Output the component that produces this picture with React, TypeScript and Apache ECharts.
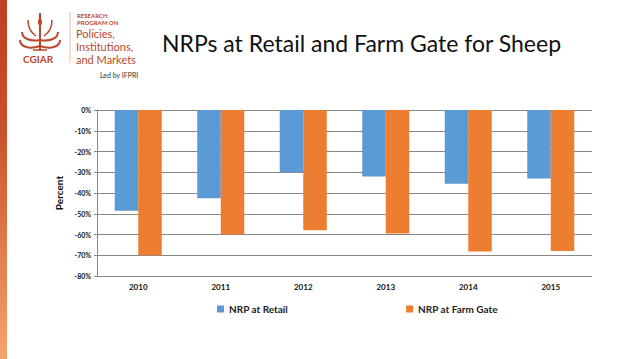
import React, { useEffect, useRef } from "react";
import * as echarts from "echarts";

const categories = ["2010", "2011", "2012", "2013", "2014", "2015"];
const retail = [-48.6, -42.5, -30, -32, -35.5, -33];
const farmGate = [-70, -60, -58, -59.5, -68.2, -68];
const seriesNames = ["NRP at Retail", "NRP at Farm Gate"];
const yTicks = { min: -80, max: 0, interval: 10 };

const logoColor = "#b9482a";

export default function App() {
  const ref = useRef<HTMLDivElement>(null);
  useEffect(() => {
    document.body.style.margin = "0";
    const chart = echarts.init(ref.current!, null, { renderer: "svg" });
    chart.setOption({
      animation: false,
      backgroundColor: "#ffffff",
      grid: { left: 97, right: 46, top: 110, bottom: 83 },
      legend: {
        data: seriesNames,
        left: 212,
        top: 299,
        itemWidth: 7,
        itemHeight: 7,
        itemGap: 118,
        icon: "rect",
        textStyle: { fontFamily: "Lato", fontWeight: "bold", fontSize: 10, color: "#222" },
      },
      xAxis: {
        type: "category",
        data: categories,
        axisLine: { show: false, onZero: false },
        axisTick: { show: false },
        axisLabel: { fontFamily: "Lato", fontWeight: "bold", fontSize: 8, color: "#111", margin: 7 },
      },
      yAxis: {
        type: "value",
        min: yTicks.min,
        max: yTicks.max,
        interval: yTicks.interval,
        name: "Percent",
        nameLocation: "middle",
        nameGap: 27,
        nameTextStyle: { fontFamily: "Lato", fontWeight: "bold", fontSize: 10, color: "#111" },
        axisLine: { show: true, lineStyle: { color: "#888888", width: 1 } },
        axisTick: { show: true, length: 3, lineStyle: { color: "#888888" } },
        axisLabel: { fontFamily: "Lato", fontWeight: "bold", fontSize: 7, color: "#111", formatter: "{value}%", margin: 6 },
        splitLine: { lineStyle: { color: "#888888", width: 1 } },
      },
      series: [
        { name: seriesNames[0], type: "bar", data: retail, itemStyle: { color: "#5b9bd5" }, barGap: "0%", barCategoryGap: "43%" },
        { name: seriesNames[1], type: "bar", data: farmGate, itemStyle: { color: "#ed7d31" } },
      ],
      graphic: [
        {
          type: "rect",
          shape: { x: 0, y: 0, width: 7, height: 359 },
          style: {
            fill: new echarts.graphic.LinearGradient(0, 0, 0, 1, [
              { offset: 0, color: "#bf3f1e" },
              { offset: 0.35, color: "#c8502a" },
              { offset: 1, color: "#f5a46c" },
            ]),
          },
        },
        {
          type: "text",
          left: 162,
          top: 31,
          style: { text: "NRPs at Retail and Farm Gate for Sheep", font: "23px Lato", fill: "#111" },
        },
        // separator
        { type: "line", shape: { x1: 70, y1: 12, x2: 70, y2: 63 }, style: { stroke: "#e8b9a0", lineWidth: 1 } },
        { type: "text", left: 77, top: 12, style: { text: "RESEARCH", font: "bold 6px Lato", fill: logoColor } },
        { type: "text", left: 77, top: 19, style: { text: "PROGRAM ON", font: "bold 6px Lato", fill: logoColor } },
        { type: "text", left: 76, top: 28, style: { text: "Policies,", font: "11px Lato", fill: logoColor } },
        { type: "text", left: 76, top: 41, style: { text: "Institutions,", font: "11px Lato", fill: logoColor } },
        { type: "text", left: 76, top: 54, style: { text: "and Markets", font: "11px Lato", fill: logoColor } },
        { type: "text", left: 100, top: 71, style: { text: "Led by IFPRI", font: "7px Lato", fill: "#333" } },
        { type: "text", left: 23, top: 54, style: { text: "CGIAR", font: "bold 10px Lato", fill: logoColor } },
        // emblem
        { type: "line", shape: { x1: 40, y1: 13, x2: 40, y2: 50 }, style: { stroke: logoColor, lineWidth: 2 } },
        { type: "ellipse", shape: { cx: 40, cy: 22, rx: 2, ry: 4 }, style: { fill: logoColor } },
        { type: "bezierCurve", shape: { x1: 40, y1: 40, x2: 22, y2: 32, cpx1: 30, cpy1: 42, cpx2: 22, cpy2: 38 }, style: { stroke: logoColor, lineWidth: 2, fill: "none" } },
        { type: "bezierCurve", shape: { x1: 40, y1: 40, x2: 58, y2: 32, cpx1: 50, cpy1: 42, cpx2: 58, cpy2: 38 }, style: { stroke: logoColor, lineWidth: 2, fill: "none" } },
        { type: "bezierCurve", shape: { x1: 40, y1: 46, x2: 20, y2: 40, cpx1: 28, cpy1: 50, cpx2: 20, cpy2: 46 }, style: { stroke: logoColor, lineWidth: 2, fill: "none" } },
        { type: "bezierCurve", shape: { x1: 40, y1: 46, x2: 60, y2: 40, cpx1: 52, cpy1: 50, cpx2: 60, cpy2: 46 }, style: { stroke: logoColor, lineWidth: 2, fill: "none" } },
        { type: "bezierCurve", shape: { x1: 36, y1: 36, x2: 28, y2: 20, cpx1: 30, cpy1: 32, cpx2: 28, cpy2: 26 }, style: { stroke: logoColor, lineWidth: 1.5, fill: "none" } },
        { type: "bezierCurve", shape: { x1: 44, y1: 36, x2: 52, y2: 20, cpx1: 50, cpy1: 32, cpx2: 52, cpy2: 26 }, style: { stroke: logoColor, lineWidth: 1.5, fill: "none" } },
        { type: "line", shape: { x1: 33, y1: 50, x2: 47, y2: 50 }, style: { stroke: logoColor, lineWidth: 1.5 } },
      ],
    });
    return () => chart.dispose();
  }, []);
  return <div ref={ref} style={{ width: 638, height: 359 }} />;
}
